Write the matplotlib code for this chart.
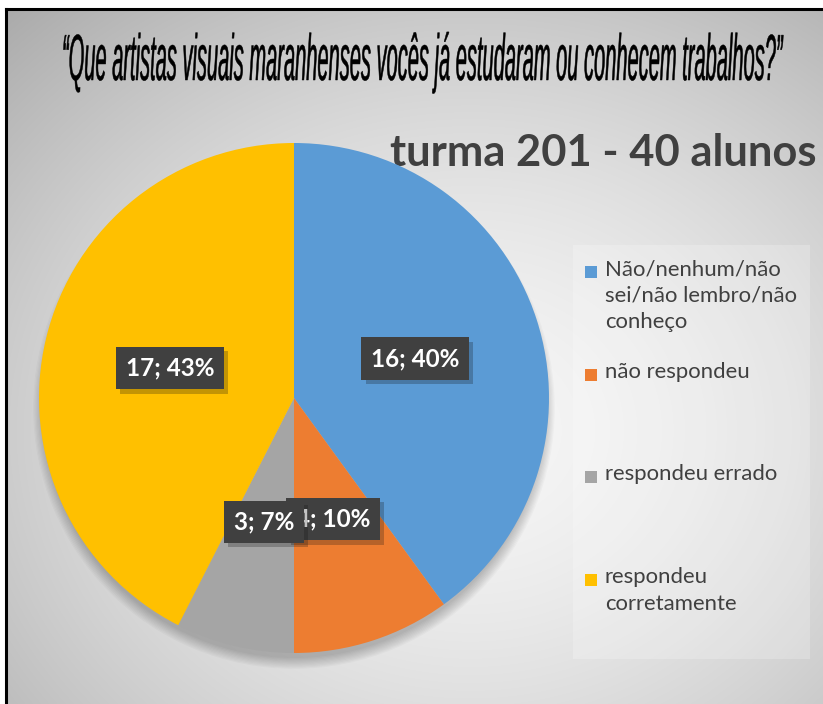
import matplotlib.pyplot as plt
import numpy as np
from matplotlib.patches import Rectangle, Circle
from matplotlib.patheffects import AbstractPathEffect, SimplePatchShadow, Normal
from matplotlib.transforms import Affine2D

# dados
categories = ['Não/nenhum/não\nsei/não lembro/não\nconheço', 'não respondeu',
              'respondeu errado', 'respondeu\ncorretamente']
counts = [16, 4, 3, 17]
pct_labels = ['40%', '10%', '7%', '43%']
colors = ['#5B9BD5', '#ED7D31', '#A5A5A5', '#FFC000']

title = '“Que artistas visuais maranhenses vocês já estudaram ou conhecem trabalhos?”'
subtitle = 'turma 201 - 40 alunos'


class Stretch(AbstractPathEffect):
    # estica o texto na vertical (fonte condensada) e engrossa um pouco
    def __init__(self, sy, lw=0.0):
        super().__init__()
        self.sy = sy
        self.lw = lw

    def draw_path(self, renderer, gc, tpath, affine, rgbFace=None):
        gc0 = renderer.new_gc()
        gc0.copy_properties(gc)
        gc0.set_linewidth(self.lw)
        gc0.set_foreground(rgbFace)
        renderer.draw_path(gc0, tpath, Affine2D().scale(1, self.sy) + affine, rgbFace)
        gc0.restore()


W, H = 823, 704
fig = plt.figure(figsize=(W / 100, H / 100), dpi=100)
fig.patch.set_facecolor('white')

bg = fig.add_axes([0, 0, 1, 1])
bg.axis('off')

# fundo com gradiente radial
yy, xx = np.mgrid[9:H, 6:W]
d = np.hypot((xx - 470) / 560.0, (yy - 430) / 480.0)
shade = 0.965 - 0.22 * np.clip(d, 0, 1.5) ** 1.6
img = np.dstack([shade, shade, shade])
bg.imshow(img, extent=(6, W, H, 9), aspect='auto', interpolation='bilinear')
bg.plot([6, 6], [9, H], color='black', lw=2.2)
bg.plot([6, W], [9, 9], color='black', lw=2.2)

# painel da legenda
bg.add_patch(Rectangle((573, 245), 237, 414, facecolor='white', alpha=0.22, lw=0))

# sombra da pizza
for k in range(10):
    bg.add_patch(Circle((294, 408), 250 + k * 1.2, facecolor='black', alpha=0.022, lw=0))

bg.set_xlim(0, W)
bg.set_ylim(H, 0)

t = bg.text(62, 80, title, ha='left', va='baseline', fontsize=13, style='italic',
            family='Liberation Sans', color='black')
fig.canvas.draw()
fs = 13 * 718 / t.get_window_extent().width
t.set_fontsize(fs)
cap = fs * 100 / 72 * 0.72
t.set_path_effects([Stretch(47 / cap, lw=0.35)])

bg.text(390, 166, subtitle, ha='left', va='baseline', fontsize=31.3, fontweight='bold',
        family='Lato', color='#404040')

# legenda
for i, (lab, col) in enumerate(zip(categories, colors)):
    y0 = 272 + i * 102.7
    bg.add_patch(Rectangle((585, y0 - 6), 12, 12, facecolor=col, lw=0))
    bg.text(605, y0 - 13, lab, ha='left', va='top', fontsize=15.9, family='Lato',
            color='#404040', linespacing=1.42)

# pizza
cx, cy, r = 294, 398, 255
ax = fig.add_axes([(cx - r) / W, 1 - (cy + r) / H, 2 * r / W, 2 * r / H])
wedges, _ = ax.pie(counts, colors=colors, startangle=90, counterclock=False,
                   wedgeprops=dict(linewidth=0))
ax.set_xlim(-1, 1)
ax.set_ylim(-1, 1)
ax.set_aspect('equal')
ax.axis('off')

for w, c, p in zip(wedges, counts, pct_labels):
    ang = np.deg2rad((w.theta1 + w.theta2) / 2)
    lbl = ax.text(0.5 * np.cos(ang), 0.5 * np.sin(ang), f'{c}; {p}', ha='center', va='center',
                  fontsize=17.5, fontweight='bold', family='Lato', color='white',
                  bbox=dict(boxstyle='square,pad=0.4', facecolor='#404040', edgecolor='none'))
    lbl.get_bbox_patch().set_path_effects([SimplePatchShadow(offset=(3, -3), alpha=0.25), Normal()])

fig.savefig('out.png', dpi=100)
